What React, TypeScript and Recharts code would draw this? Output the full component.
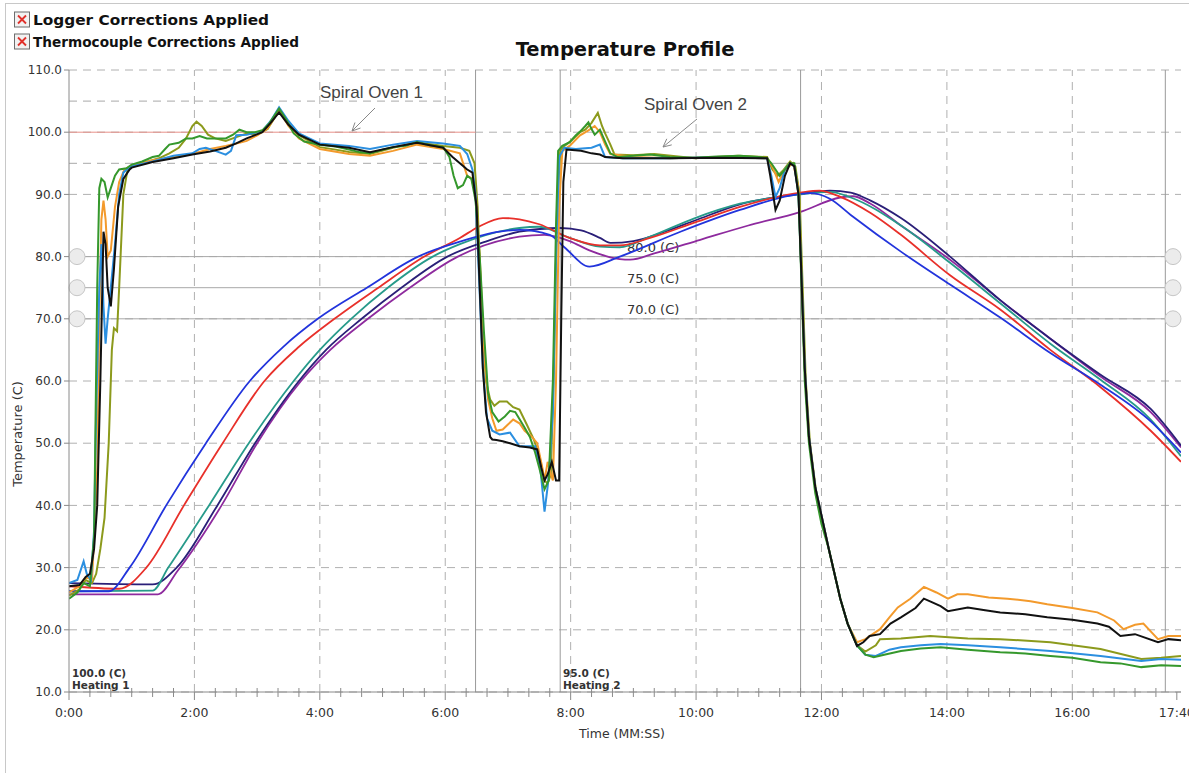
import React from 'react';
import { LineChart, Line, XAxis, YAxis, CartesianGrid, ReferenceLine } from 'recharts';

const W = 1189;
const H = 773;
const PLOT_TOP = 70;
const PLOT_BOTTOM = 692;
const FONT = '"DejaVu Sans", Verdana, sans-serif';

// time in seconds, temperature in C
const yTicks = [10, 20, 30, 40, 50, 60, 70, 80, 90, 100, 110];
const majorTimes = [0, 120, 240, 360, 480, 600, 720, 840, 960, 1060];
const xTicks = [...Array.from({ length: 53 }, (_, i) => i * 20), 1060];
const zoneEdges = [389, 470, 700, 1049];
const alarmLines = [
  { temp: 80, text: '80.0 (C)' },
  { temp: 75, text: '75.0 (C)' },
  { temp: 70, text: '70.0 (C)' },
];

// oven air probes
const greenAir: [number, number][] = [
  [0, 25], [8, 26], [14, 27.5], [20, 27], [24, 35], [27, 75], [29, 91], [31, 92.5], [34, 92], [37, 89.5],
  [40, 91], [44, 93], [48, 94], [55, 94.2], [60, 94.8], [70, 95.3], [80, 96], [86, 96.2], [92, 97.3], [96, 98],
  [105, 98.3], [112, 99], [118, 99], [125, 99.4], [132, 99], [140, 99], [150, 99], [157, 99.6], [163, 100.4],
  [170, 100], [178, 100], [185, 100.3], [192, 101.5], [201, 103.8], [208, 102], [215, 99.8], [225, 98.5],
  [240, 98], [255, 97.7], [268, 97.2], [278, 96.8], [288, 96.6], [300, 97.2], [310, 97.6], [322, 97.8],
  [333, 98.4], [345, 97.9], [358, 97.6], [364, 96], [368, 93], [372, 91], [377, 91.5], [381, 93], [385, 92.5],
  [389, 89], [393, 80], [397, 68], [401, 58], [405, 55], [411, 53.5], [417, 54.3], [422, 55.2], [427, 55],
  [431, 53.9], [436, 52.5], [441, 51], [446, 48.5], [450, 46], [455, 42.6], [459, 44], [463, 60], [466, 85],
  [468, 97], [472, 97.8], [479, 98.4], [485, 99.5], [489, 100.1], [494, 101], [497, 101.6], [500, 100.5],
  [503, 99.6], [508, 100.4], [513, 98.5], [518, 96.6], [525, 96], [540, 96.2], [556, 96.4], [575, 96],
  [599, 95.9], [620, 96.1], [642, 96.2], [660, 96], [668, 95.8], [672, 95], [676, 94], [680, 93], [685, 94],
  [690, 95], [694, 95], [698, 90], [701, 75], [704, 60], [708, 50], [714, 42], [720, 37], [727, 33], [738, 25],
  [745, 21], [754, 17.5], [762, 16], [770, 15.6], [780, 16], [796, 16.6], [815, 17], [834, 17.2], [860, 16.8],
  [891, 16.4], [915, 16.2], [939, 15.8], [960, 15.5], [987, 14.8], [1006, 14.6], [1026, 14], [1045, 14.3],
  [1064, 14.2],
];

const oliveAir: [number, number][] = [
  [0, 25.5], [10, 26.5], [16, 28], [22, 27.5], [26, 29], [30, 33], [34, 38], [38, 50], [41, 65], [43, 68.5],
  [46, 68], [48, 75], [52, 90], [56, 94], [60, 94.5], [70, 95], [86, 95.8], [96, 96.6], [105, 97.5], [112, 99],
  [118, 101], [122, 101.7], [127, 101], [133, 99.6], [140, 99], [150, 98.6], [160, 99.2], [170, 99.8],
  [180, 99.6], [190, 100.5], [201, 103.5], [210, 101.5], [220, 99.5], [240, 97.6], [255, 97.2], [268, 96.8],
  [288, 96.5], [310, 97.5], [333, 98.4], [358, 97.8], [374, 97.5], [383, 97], [388, 95], [391, 88], [395, 70],
  [399, 60], [403, 57], [407, 56], [412, 56.7], [419, 56.7], [425, 55.8], [431, 55.4], [438, 53], [445, 50.5],
  [450, 48], [455, 44], [458, 43.5], [461, 45], [464, 62], [467, 88], [470, 97], [474, 97.8], [479, 98.4],
  [489, 100], [494, 100.4], [500, 101.5], [506, 103.1], [510, 101], [513, 99.8], [518, 98], [522, 96.4],
  [540, 96.3], [560, 96.5], [599, 95.8], [640, 96.2], [668, 96], [673, 94], [678, 93], [683, 93.8], [690, 95.3],
  [695, 94.5], [699, 90], [702, 75], [705, 60], [709, 50], [715, 42], [727, 33], [738, 25], [745, 21],
  [754, 17.5], [762, 16.5], [772, 17.5], [776, 18.5], [796, 18.6], [824, 19], [860, 18.6], [891, 18.5],
  [939, 18], [987, 16.9], [1026, 15.3], [1045, 15.5], [1064, 15.8],
];

const orangeAir: [number, number][] = [
  [0, 26], [10, 27], [16, 28.5], [22, 28], [25, 38], [27, 46], [29, 70], [31, 86], [33, 89], [35, 86], [37, 80],
  [40, 81], [44, 88], [48, 92], [53, 94], [60, 94.6], [80, 95.5], [100, 96], [118, 96.5], [135, 97.3],
  [150, 97.8], [163, 98.3], [170, 98.6], [180, 99.5], [190, 100.6], [201, 103.5], [210, 101], [220, 99],
  [240, 97.3], [268, 96.5], [288, 96.2], [310, 97], [333, 98], [358, 97.3], [374, 96.6], [381, 93],
  [385, 92.6], [389, 90], [393, 80], [397, 65], [401, 57], [405, 54], [409, 52], [415, 52.2], [420, 53],
  [425, 53.8], [431, 53.2], [436, 52], [443, 51], [448, 50], [453, 46], [455, 44], [458, 47], [461, 45],
  [463, 44], [466, 60], [469, 88], [472, 97], [479, 97.8], [489, 99.5], [497, 100.3], [503, 101], [508, 100],
  [513, 98], [518, 96.5], [540, 96], [575, 95.8], [620, 96], [668, 95.8], [673, 94.5], [679, 92], [685, 94],
  [693, 95], [698, 91], [701, 76], [704, 62], [708, 51], [714, 43], [727, 33], [738, 25], [745, 21], [754, 18],
  [762, 18.5], [776, 20.1], [785, 22], [793, 23.6], [805, 25], [818, 26.9], [830, 26], [841, 25], [850, 25.7],
  [860, 25.7], [880, 25.2], [898, 25], [920, 24.6], [936, 24.1], [960, 23.5], [984, 22.8], [1000, 21.5],
  [1009, 20.1], [1020, 20.8], [1028, 21], [1042, 18.5], [1052, 19], [1064, 19],
];

const lightBlueAir: [number, number][] = [
  [0, 27.5], [8, 28], [14, 31], [17, 29], [21, 28], [24, 36], [26, 55], [29, 75], [31, 82], [33, 72], [35, 66],
  [37, 70], [40, 75], [44, 82], [48, 90], [52, 93.5], [58, 94.4], [80, 95.3], [100, 96.2], [118, 96.6],
  [125, 97.3], [131, 97.5], [140, 97], [150, 96.4], [155, 97], [160, 99.5], [170, 99.6], [185, 100.2],
  [193, 101.8], [201, 104], [210, 101.8], [220, 99.8], [240, 98.2], [268, 97.8], [288, 97.3], [310, 98],
  [333, 98.6], [358, 98.2], [374, 97.8], [381, 96.5], [386, 94], [389, 90], [392, 78], [396, 62], [400, 54],
  [405, 52], [412, 51.4], [422, 51.7], [431, 49.5], [441, 49.5], [446, 49.5], [451, 46], [455, 39], [458, 43],
  [460, 47], [463, 55], [466, 80], [469, 96], [474, 97.5], [485, 97.3], [500, 97.5], [508, 98], [513, 96],
  [530, 95.8], [575, 95.8], [620, 96], [668, 95.8], [672, 93], [676, 89.6], [680, 91], [685, 94], [690, 95],
  [694, 94.6], [698, 90], [701, 76], [704, 62], [708, 51], [714, 43], [727, 33], [738, 25], [745, 21],
  [754, 17.5], [762, 16], [772, 15.8], [785, 16.8], [796, 17.2], [815, 17.5], [834, 17.7], [860, 17.5],
  [891, 17.2], [939, 16.6], [987, 15.8], [1026, 15], [1045, 15.3], [1064, 15.2],
];

const blackAir: [number, number][] = [
  [0, 27], [10, 27.2], [16, 28.5], [20, 29], [24, 33], [27, 40], [30, 60], [33, 84], [35, 82], [37, 75],
  [40, 72], [43, 78], [47, 88], [52, 92.5], [58, 94], [60, 94.3], [80, 95.2], [100, 95.8], [118, 96.4],
  [135, 96.9], [150, 97.5], [160, 98.2], [170, 99], [185, 100], [193, 101.5], [201, 103.2], [210, 101.2],
  [220, 99.6], [240, 98], [268, 97.5], [288, 96.8], [310, 97.6], [333, 98.3], [358, 97.5], [367, 96],
  [374, 95], [381, 94], [386, 93.5], [390, 88], [393, 75], [396, 62], [399, 55], [403, 51], [405, 50.6],
  [409, 50.5], [415, 50.3], [422, 50], [431, 49.5], [441, 49.3], [448, 49], [452, 46], [455, 44], [458, 45],
  [462, 47], [466, 44], [469, 44], [471, 70], [473, 92], [476, 97.2], [490, 97], [500, 96.6], [508, 96.4],
  [513, 96], [530, 95.8], [575, 95.8], [620, 95.9], [668, 95.8], [671, 93], [676, 87.5], [680, 89], [685, 93],
  [690, 95], [694, 94.5], [698, 90], [701, 76], [704, 62], [708, 51], [714, 43], [727, 33], [738, 25],
  [745, 21], [750, 19], [754, 17.4], [760, 18], [766, 19], [776, 19.3], [786, 21], [796, 22], [810, 23.5],
  [818, 25], [825, 24.5], [834, 23.8], [841, 23], [860, 23.6], [875, 23.2], [891, 22.8], [915, 22.5],
  [936, 22], [960, 21.6], [984, 21], [995, 20.5], [1006, 19], [1020, 19.3], [1042, 18], [1052, 18.5],
  [1064, 18.3],
];

// product probes
const blueProduct: [number, number][] = [
  [0, 26.2], [38, 26.2], [58, 30], [93, 40], [131, 50], [173, 60], [205, 65.5], [238, 70], [285, 75],
  [334, 80], [374, 82.4], [412, 84], [431, 84.3], [460, 83.5], [474, 81.5], [498, 78.4], [527, 80],
  [585, 84], [642, 87.5], [690, 89.8], [709, 90.2], [728, 89.3], [748, 86.7], [796, 80.8], [843, 75.5],
  [891, 70.2], [939, 64.5], [987, 59.4], [1035, 53.5], [1064, 48.5],
];

const redProduct: [number, number][] = [
  [0, 27], [48, 26.6], [74, 30], [110, 40], [147, 50], [187, 60], [220, 65.5], [254, 70], [296, 75],
  [340, 80], [374, 83], [392, 84.8], [415, 86.2], [431, 86], [450, 85.2], [479, 83], [508, 81.8], [527, 81.8],
  [556, 83], [599, 85.5], [642, 88], [700, 90.3], [718, 90.6], [738, 89.6], [767, 87], [796, 83.5],
  [843, 77], [891, 71.5], [939, 65], [987, 59], [1035, 52], [1064, 47],
];

const tealProduct: [number, number][] = [
  [0, 26.2], [80, 26.3], [95, 30], [134, 40], [172, 50], [215, 60], [240, 65], [270, 70], [305, 75],
  [348, 80], [374, 82], [431, 84.6], [450, 84.8], [479, 83], [508, 81.6], [527, 81.5], [556, 83.2],
  [599, 86.2], [642, 88.5], [700, 90], [728, 90.4], [748, 89.5], [796, 85], [843, 79], [891, 72.5],
  [939, 66], [987, 60.2], [1035, 53.8], [1064, 47.9],
];

const navyProduct: [number, number][] = [
  [0, 27.5], [80, 27.3], [103, 30], [142, 40], [178, 50], [220, 60], [246, 65], [280, 70], [318, 75],
  [362, 80], [400, 82.5], [431, 84], [470, 84.6], [490, 84.2], [508, 83], [518, 82.2], [540, 82.5],
  [570, 84], [599, 85.8], [642, 88.4], [700, 90.1], [728, 90.6], [748, 90.3], [767, 89], [796, 86.2],
  [843, 80], [891, 73], [939, 66.8], [987, 61], [1035, 55.5], [1064, 49.6],
];

const purpleProduct: [number, number][] = [
  [0, 25.7], [85, 25.7], [104, 29.5], [146, 40], [180, 50], [222, 60], [250, 65], [286, 70], [326, 75],
  [372, 80], [431, 83.2], [455, 83.5], [479, 82.5], [498, 81], [527, 79.6], [537, 79.5], [560, 80.5],
  [604, 82.7], [650, 85], [700, 87.2], [738, 89.5], [750, 89.7], [767, 88.5], [796, 85], [843, 79.5],
  [891, 73], [939, 66.8], [987, 60.7], [1035, 55], [1064, 49.3],
];

const productSeries = [
  { name: 'TC10', pts: purpleProduct, color: '#8e2a9e' },
  { name: 'TC9', pts: navyProduct, color: '#2a1f78' },
  { name: 'TC8', pts: tealProduct, color: '#279a8a' },
  { name: 'TC7', pts: redProduct, color: '#e8302a' },
  { name: 'TC6', pts: blueProduct, color: '#2234dc' },
];

const airSeries = [
  { name: 'TC5', pts: oliveAir, color: '#8c9a1c' },
  { name: 'TC4', pts: orangeAir, color: '#f39a2c' },
  { name: 'TC3', pts: lightBlueAir, color: '#2b8fe0' },
  { name: 'TC2', pts: greenAir, color: '#35982c' },
  { name: 'TC1', pts: blackAir, color: '#111111' },
];

const toRows = (pts: [number, number][]) => pts.map(([t, v]) => ({ t, v }));

const fmtTime = (t: number) => `${Math.floor(t / 60)}:${String(t % 60).padStart(2, '0')}`;

const TimeTick = (props: any) => {
  const { x, payload } = props;
  const t = payload.value;
  const major = majorTimes.includes(t);
  return (
    <g>
      <line x1={x} x2={x} y1={PLOT_BOTTOM - (major ? 0 : 4)} y2={PLOT_BOTTOM + (major ? 8 : 5)} stroke="#8a8a8a" />
      {major && (
        <text x={x} y={PLOT_BOTTOM + 25} textAnchor="middle" fontSize={12.5} fill="#333" fontFamily={FONT}>
          {fmtTime(t)}
        </text>
      )}
    </g>
  );
};

const HandleLabel = (props: any) => {
  const { viewBox, text } = props;
  if (!viewBox) return null;
  const { x, y, width } = viewBox;
  return (
    <g>
      <circle cx={x + 8} cy={y} r={8} fill="#ececec" stroke="#c6c6c6" />
      <circle cx={x + width - 8} cy={y} r={8} fill="#ececec" stroke="#c6c6c6" />
      <text x={x + 558} y={y - 5} fontSize={13} fill="#333" fontFamily={FONT}>{text}</text>
    </g>
  );
};

const Arrow = ({ x1, y1, x2, y2 }: { x1: number; y1: number; x2: number; y2: number }) => {
  const a = Math.atan2(y2 - y1, x2 - x1);
  const len = 9;
  const s = 0.45;
  return (
    <g stroke="#888" strokeWidth={1} fill="none">
      <line x1={x1} y1={y1} x2={x2} y2={y2} />
      <line x1={x2} y1={y2} x2={x2 - len * Math.cos(a - s)} y2={y2 - len * Math.sin(a - s)} />
      <line x1={x2} y1={y2} x2={x2 - len * Math.cos(a + s)} y2={y2 - len * Math.sin(a + s)} />
    </g>
  );
};

const CheckBox = ({ y, text, w }: { y: number; text: string; w: number }) => (
  <g>
    <rect x={14.5} y={y} width={15} height={15} fill="#f2f2f2" stroke="#6d6d6d" />
    <line x1={18} y1={y + 3.5} x2={26} y2={y + 11.5} stroke="#e0302a" strokeWidth={1.8} />
    <line x1={26} y1={y + 3.5} x2={18} y2={y + 11.5} stroke="#e0302a" strokeWidth={1.8} />
    <text
      x={33}
      y={y + 13}
      fontSize={14.5}
      fontWeight="bold"
      fill="#111"
      fontFamily={FONT}
      textLength={w}
      lengthAdjust="spacingAndGlyphs"
    >
      {text}
    </text>
  </g>
);

export default function App() {
  return (
    <div style={{ position: 'absolute', left: 0, top: 0, width: W, height: H, background: '#fff', overflow: 'hidden' }}>
      <LineChart width={W} height={H} margin={{ top: PLOT_TOP, right: 8, bottom: 31, left: 0 }}>
        <CartesianGrid vertical={false} stroke="#b0b0b0" strokeDasharray="8 6" />
        <XAxis
          dataKey="t"
          type="number"
          domain={[0, 1064]}
          allowDataOverflow
          ticks={xTicks}
          interval={0}
          height={50}
          tickLine={false}
          tick={<TimeTick />}
          stroke="#8a8a8a"
        />
        <YAxis
          type="number"
          domain={[10, 110]}
          ticks={yTicks}
          interval={0}
          width={69}
          tickSize={5}
          tickFormatter={(v: number) => v.toFixed(1)}
          tick={{ fontSize: 12, fill: '#333', fontFamily: FONT }}
          stroke="#8a8a8a"
        />
        {majorTimes.slice(1, -1).map((t) => (
          <ReferenceLine key={`g${t}`} x={t} stroke="#b0b0b0" strokeDasharray="8 6" />
        ))}
        {zoneEdges.map((t) => (
          <ReferenceLine key={`z${t}`} x={t} stroke="#9a9a9a" />
        ))}
        <ReferenceLine segment={[{ x: 0, y: 105 }, { x: zoneEdges[0], y: 105 }]} stroke="#a8a8a8" strokeDasharray="8 6" />
        <ReferenceLine segment={[{ x: 0, y: 95 }, { x: zoneEdges[0], y: 95 }]} stroke="#a8a8a8" strokeDasharray="8 6" />
        <ReferenceLine segment={[{ x: 0, y: 100 }, { x: zoneEdges[0], y: 100 }]} stroke="#e89088" />
        <ReferenceLine segment={[{ x: zoneEdges[1], y: 95 }, { x: zoneEdges[2], y: 95 }]} stroke="#a8a8a8" />
        {alarmLines.map((a) => (
          <ReferenceLine key={a.temp} y={a.temp} stroke="#a8a8a8" label={<HandleLabel text={a.text} />} />
        ))}
        {productSeries.map((s) => (
          <Line
            key={s.name}
            data={toRows(s.pts)}
            dataKey="v"
            name={s.name}
            type="monotone"
            stroke={s.color}
            strokeWidth={1.8}
            dot={false}
            isAnimationActive={false}
          />
        ))}
        {airSeries.map((s) => (
          <Line
            key={s.name}
            data={toRows(s.pts)}
            dataKey="v"
            name={s.name}
            type="linear"
            stroke={s.color}
            strokeWidth={2}
            dot={false}
            isAnimationActive={false}
          />
        ))}
      </LineChart>
      <svg width={W} height={H} style={{ position: 'absolute', left: 0, top: 0, pointerEvents: 'none' }}>
        <line x1={5} y1={3.5} x2={W} y2={3.5} stroke="#c8c8c8" />
        <line x1={5.5} y1={3} x2={5.5} y2={H} stroke="#c8c8c8" />
        <CheckBox y={12} text="Logger Corrections Applied" w={236} />
        <CheckBox y={34} text="Thermocouple Corrections Applied" w={266} />
        <text x={625} y={56} textAnchor="middle" fontSize={19.5} fontWeight="bold" fill="#111" fontFamily={FONT}>
          Temperature Profile
        </text>
        <text x={320} y={98} fontSize={17} fill="#444" fontFamily='"Liberation Sans", Arial, sans-serif'>Spiral Oven 1</text>
        <Arrow x1={375} y1={108} x2={352} y2={131} />
        <text x={644} y={110} fontSize={17} fill="#444" fontFamily='"Liberation Sans", Arial, sans-serif'>Spiral Oven 2</text>
        <Arrow x1={697} y1={119} x2={663} y2={147} />
        <g fontSize={10.5} fontWeight="bold" fill="#333" fontFamily={FONT}>
          <text x={72} y={677}>100.0 (C)</text>
          <text x={72} y={689}>Heating 1</text>
          <text x={563} y={677}>95.0 (C)</text>
          <text x={563} y={689}>Heating 2</text>
        </g>
        <text x={622} y={738} textAnchor="middle" fontSize={12.5} fill="#333" fontFamily={FONT}>Time (MM:SS)</text>
        <text
          x={0}
          y={0}
          transform="translate(22 434) rotate(-90)"
          textAnchor="middle"
          fontSize={13}
          fill="#333"
          fontFamily={FONT}
        >
          Temperature (C)
        </text>
      </svg>
    </div>
  );
}
